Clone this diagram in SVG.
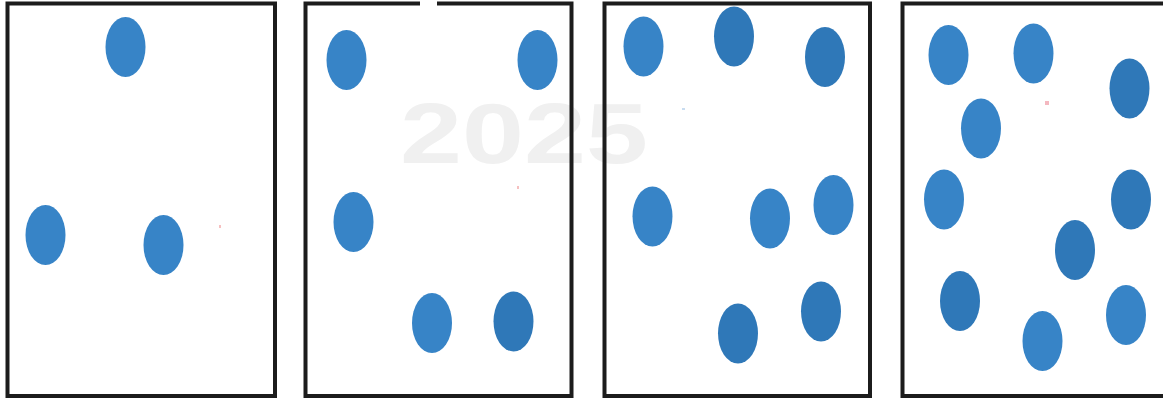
<svg xmlns="http://www.w3.org/2000/svg" width="1163" height="405" viewBox="0 0 1163 405">
<style>
.frame{fill:none;stroke:#1c1c1c;stroke-width:4}
.dot{fill:#3784c7}
.dk{fill:#2f78b8}
.wm{font-family:"Liberation Sans",Arial,sans-serif;font-weight:bold;font-size:86px;fill:#f0f0f0}
</style>
<rect width="1163" height="405" fill="#fff"/>
<text class="wm" x="400" y="163" textLength="248" lengthAdjust="spacingAndGlyphs">2025</text>
<g id="panel1">
<rect class="frame" x="7.5" y="3.5" width="267.5" height="392.5"/>
<ellipse class="dot" cx="125.5" cy="47" rx="20" ry="30"/>
<ellipse class="dot" cx="45.5" cy="235" rx="20" ry="30"/>
<ellipse class="dot" cx="163.5" cy="245" rx="20" ry="30"/>
<rect x="219" y="225" width="2" height="3" fill="#f6c0c0"/>
</g>
<g id="panel2">
<rect class="frame" x="305.5" y="3.5" width="266" height="392.5"/>
<rect x="420" y="0" width="17" height="7" fill="#fff"/>
<ellipse class="dot" cx="346.5" cy="60" rx="20" ry="30"/>
<ellipse class="dot" cx="537.5" cy="60" rx="20" ry="30"/>
<ellipse class="dot" cx="353.5" cy="222" rx="20" ry="30"/>
<ellipse class="dot" cx="432" cy="323" rx="20" ry="30"/>
<ellipse class="dk" cx="513.5" cy="321.5" rx="20" ry="30"/>
<rect x="517" y="186" width="2" height="3" fill="#f6c0c0"/>
</g>
<g id="panel3">
<rect class="frame" x="604.5" y="3.5" width="265.5" height="392.5"/>
<ellipse class="dot" cx="643.5" cy="46.5" rx="20" ry="30"/>
<ellipse class="dk" cx="734" cy="36.5" rx="20" ry="30"/>
<ellipse class="dk" cx="825" cy="57" rx="20" ry="30"/>
<ellipse class="dot" cx="652.5" cy="216.5" rx="20" ry="30"/>
<ellipse class="dot" cx="770" cy="218.5" rx="20" ry="30" fill="#4089ca"/>
<ellipse class="dot" cx="833.5" cy="205" rx="20" ry="30"/>
<ellipse class="dk" cx="738" cy="333.5" rx="20" ry="30"/>
<ellipse class="dk" cx="821" cy="311.5" rx="20" ry="30"/>
<rect x="682" y="108" width="3" height="2" fill="#c8dcf0"/>
</g>
<g id="panel4">
<rect class="frame" x="902.5" y="3.5" width="270" height="392.5"/>
<ellipse class="dot" cx="948.5" cy="55" rx="20" ry="30"/>
<ellipse class="dot" cx="1033.5" cy="53.5" rx="20" ry="30"/>
<ellipse class="dk" cx="1129.5" cy="88.5" rx="20" ry="30"/>
<ellipse class="dot" cx="981" cy="128.5" rx="20" ry="30"/>
<ellipse class="dot" cx="944" cy="199.5" rx="20" ry="30"/>
<ellipse class="dk" cx="1131" cy="199.5" rx="20" ry="30"/>
<ellipse class="dk" cx="1075" cy="250" rx="20" ry="30"/>
<ellipse class="dk" cx="960" cy="301" rx="20" ry="30"/>
<ellipse class="dot" cx="1042.5" cy="341" rx="20" ry="30"/>
<ellipse class="dot" cx="1126" cy="315" rx="20" ry="30"/>
<rect x="1045" y="101" width="4" height="4" fill="#f4b8c0"/>
</g>
<g id="connectors"></g>
</svg>
